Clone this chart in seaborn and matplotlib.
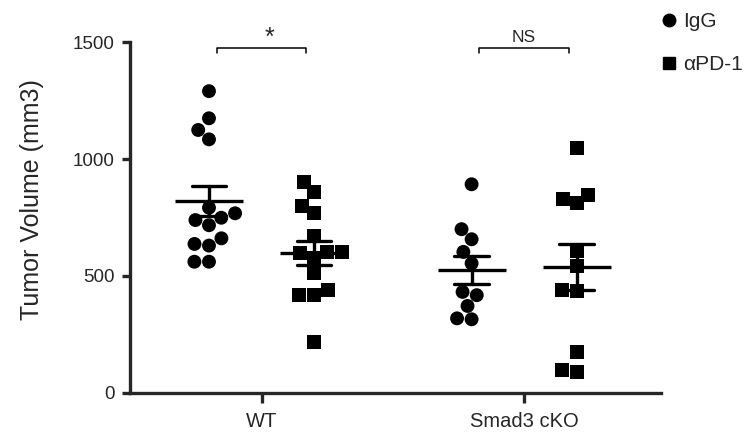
import numpy as np
import pandas as pd
import matplotlib
matplotlib.use("Agg")
import matplotlib.pyplot as plt
from matplotlib.lines import Line2D
import seaborn as sns

# ---------------- data ----------------
genotypes = ["WT", "Smad3 cKO"]
treatments = ["IgG", "αPD-1"]

wt_igg = [1290, 1174, 1124, 1084, 792, 749, 768, 739, 717, 661, 630, 637, 561, 561]
wt_pd1 = [900, 858, 799, 768, 671, 604, 597, 604, 578, 512, 419, 419, 440, 219]
ko_igg = [892, 700, 657, 603, 554, 432, 418, 372, 315, 319]
ko_pd1 = [1046, 828, 811, 846, 607, 544, 440, 436, 174, 91, 98]

y_ticks = [0, 500, 1000, 1500]
y_label = "Tumor Volume (mm3)"
sig_labels = ["*", "NS"]

rows = []
for g, t, vals in [("WT", "IgG", wt_igg), ("WT", "αPD-1", wt_pd1),
                   ("Smad3 cKO", "IgG", ko_igg), ("Smad3 cKO", "αPD-1", ko_pd1)]:
    for v in vals:
        rows.append({"genotype": g, "treatment": t, "volume": v})
df = pd.DataFrame(rows)

# ---------------- style ----------------
sns.set_style("ticks")
plt.rcParams["font.family"] = ["Liberation Sans", "DejaVu Sans"]

fig = plt.figure(figsize=(7.44, 4.34), dpi=100)
ax = fig.add_axes([0.175, 0.0945, 0.713, 0.8087])

pal = {"IgG": "black", "αPD-1": "black"}
markers = {"IgG": "o", "αPD-1": "s"}

for t in treatments:
    sns.swarmplot(data=df[df.treatment == t], x="genotype", y="volume",
                  hue="treatment", hue_order=treatments, order=genotypes,
                  dodge=True, palette=pal, marker=markers[t],
                  size=10, linewidth=0, legend=False, ax=ax, zorder=2)

sns.pointplot(data=df, x="genotype", y="volume", hue="treatment",
              hue_order=treatments, order=genotypes, dodge=0.4,
              errorbar="se", capsize=0.133, markers="_", linestyle="none",
              palette=pal, markersize=49, markeredgewidth=2.4,
              err_kws={"linewidth": 2.4}, legend=False, ax=ax, zorder=3)

ax.set_ylim(0, 1500)
ax.set_xlim(-0.5, 1.52)
ax.set_yticks(y_ticks)
ax.set_xlabel("")
ax.set_ylabel(y_label, fontsize=18)
ax.yaxis.set_label_coords(-0.163, 0.55)
sns.despine(ax=ax)
for s in ["left", "bottom"]:
    ax.spines[s].set_linewidth(2.4)
ax.tick_params(axis="y", labelsize=13.5, length=6, width=2.4, pad=5)
ax.tick_params(axis="x", labelsize=14.5, length=7, width=2.4, pad=7)

# significance brackets
br_y, br_drop, half = 1476, 22, 0.17
for i, lab in enumerate(sig_labels):
    ax.plot([i - half, i - half, i + half, i + half],
            [br_y - br_drop, br_y, br_y, br_y - br_drop],
            color="black", lw=1.1, clip_on=False)
    if lab == "*":
        ax.text(i + 0.03, br_y - 10, lab, ha="center", va="bottom", fontsize=18)
    else:
        ax.text(i, br_y + 10, lab, ha="center", va="bottom", fontsize=12.5)

handles = [Line2D([], [], marker="o", color="black", linestyle="none", markersize=9),
           Line2D([], [], marker="s", color="black", linestyle="none", markersize=9)]
fig.legend(handles, treatments, loc="upper left", bbox_to_anchor=(0.885, 0.972),
           frameon=False, fontsize=15, handlelength=1.0, handletextpad=0.2,
           labelspacing=1.15, borderpad=0, borderaxespad=0)

fig.savefig("out.png", dpi=100)
